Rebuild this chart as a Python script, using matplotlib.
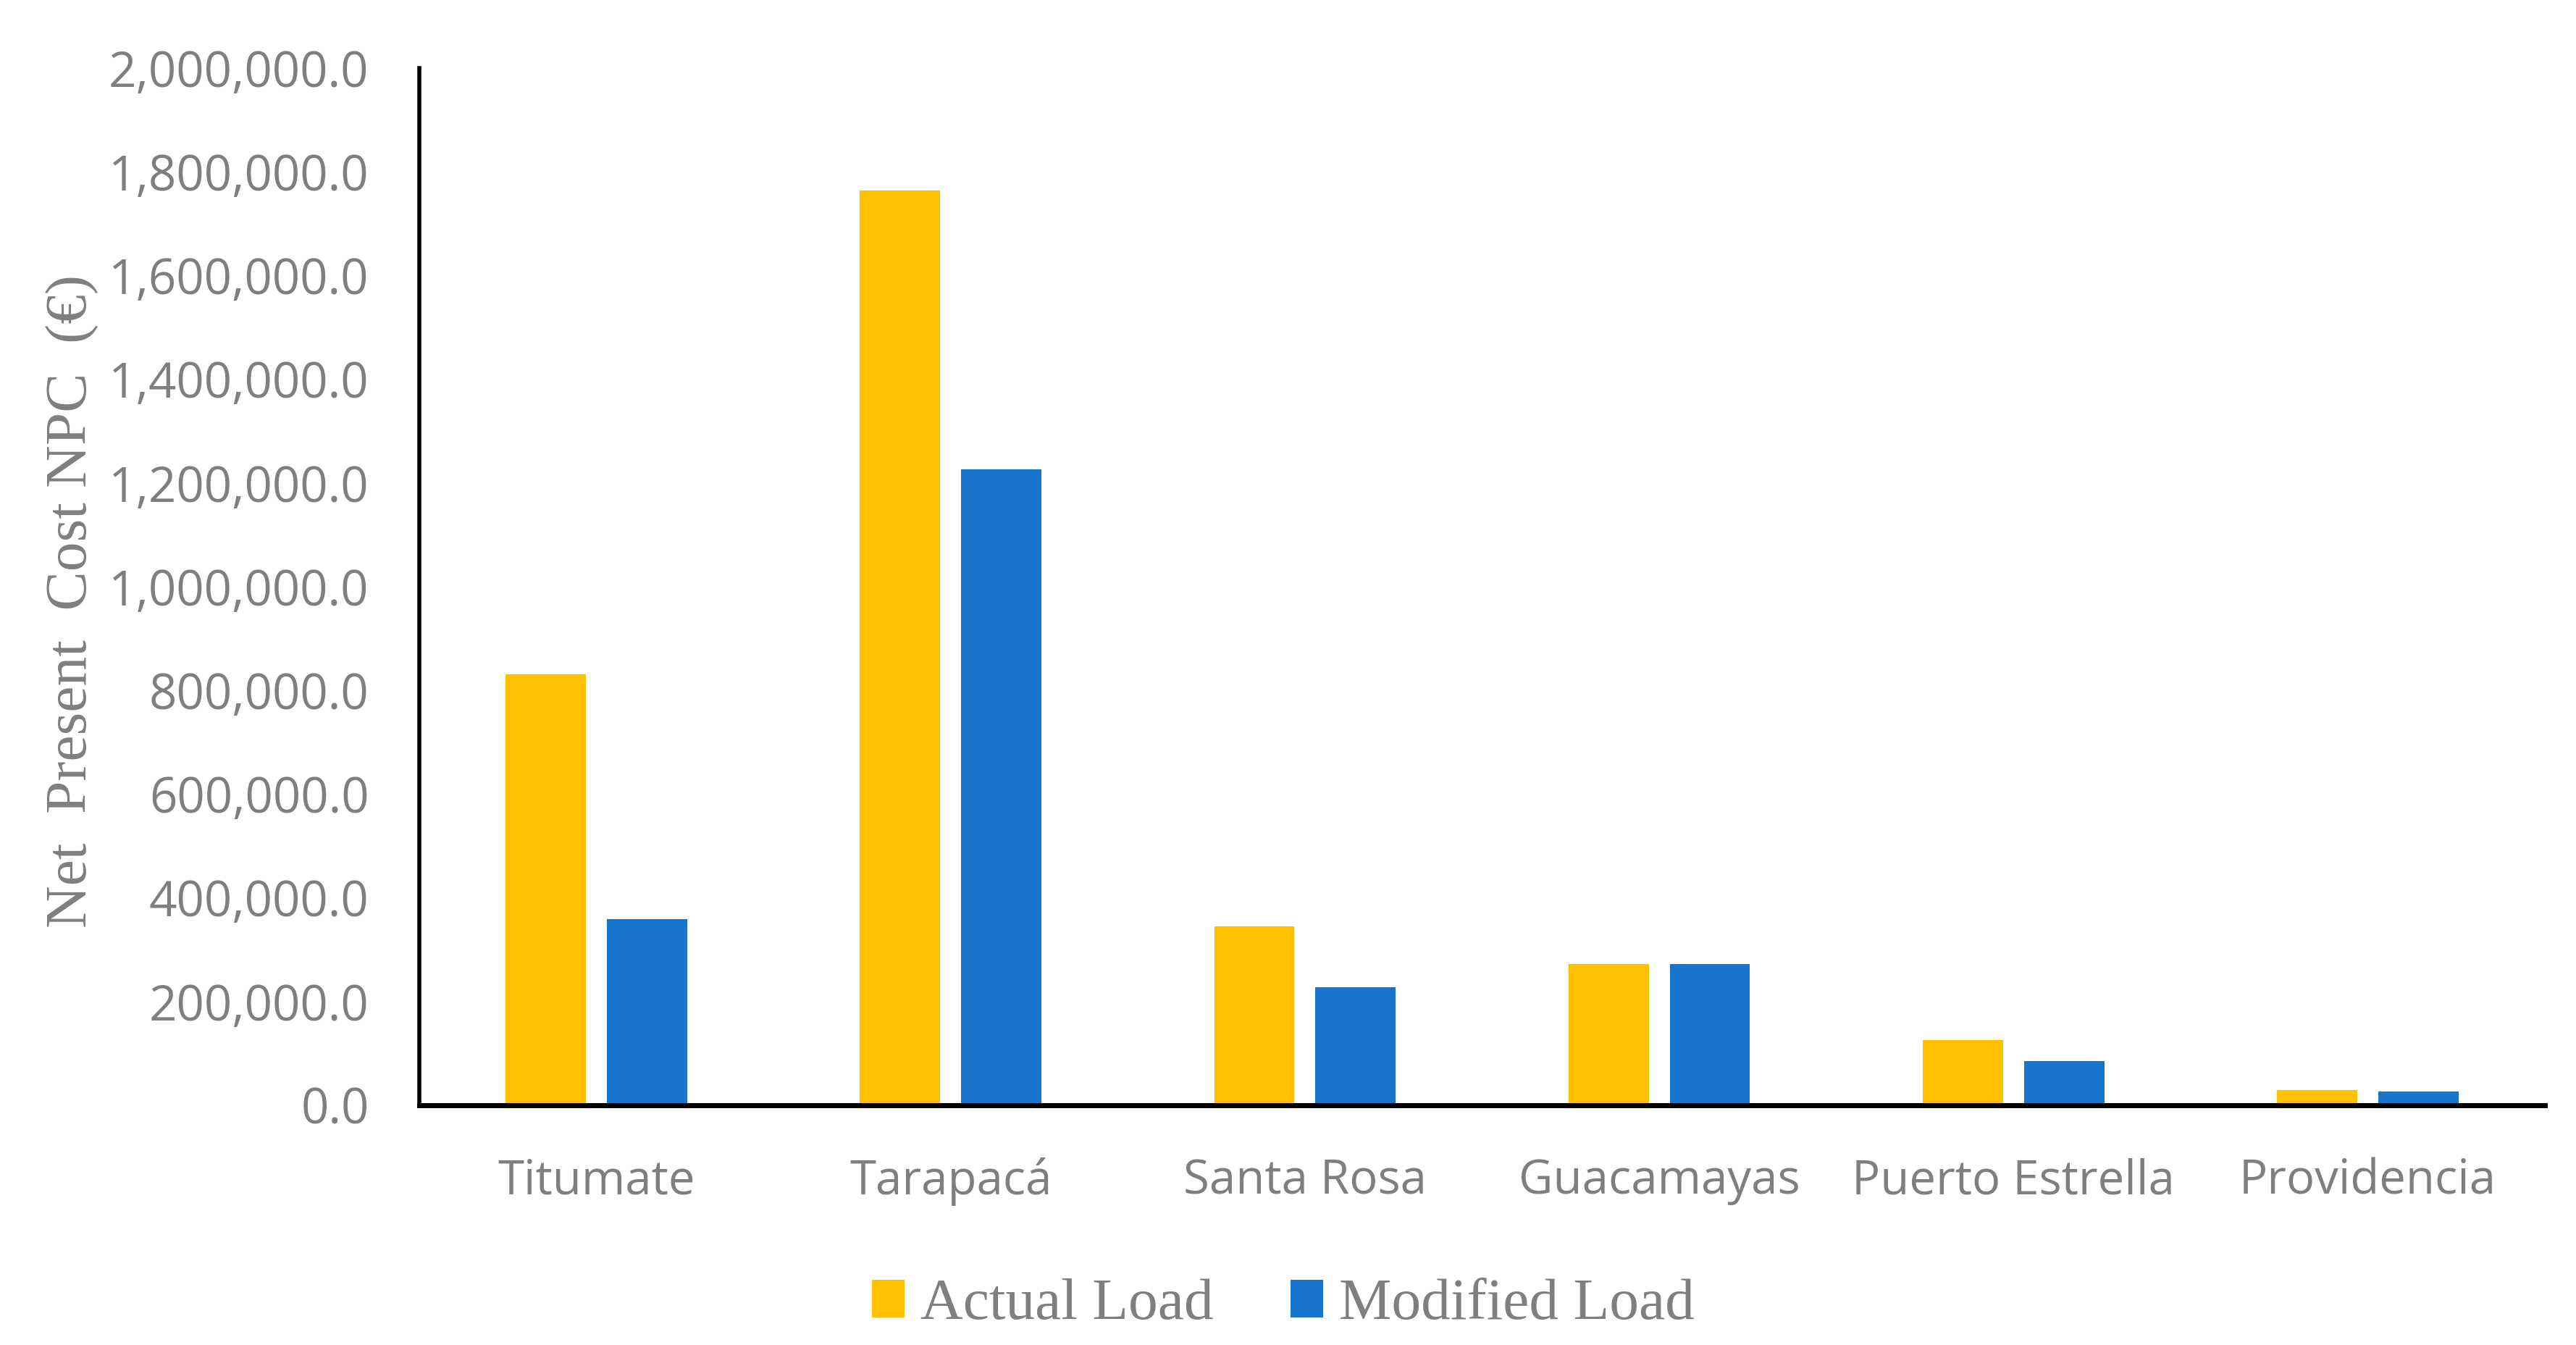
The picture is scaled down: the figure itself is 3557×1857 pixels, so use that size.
import matplotlib
matplotlib.use("Agg")
import matplotlib.pyplot as plt
import numpy as np
from matplotlib.ticker import FuncFormatter
from matplotlib.patches import Patch

categories = ["Titumate", "Tarapacá", "Santa Rosa", "Guacamayas", "Puerto Estrella", "Providencia"]
actual_load = [831000, 1764000, 345000, 272000, 126000, 29000]
modified_load = [359000, 1226000, 228000, 272000, 85000, 26500]
series_names = ["Actual Load", "Modified Load"]
yticks = list(range(0, 2000001, 200000))
ylabel_text = "Net  Present  Cost NPC  (€)"

YELLOW = "#FFC000"
BLUE = "#1874CD"
GRAY = "#7F7F7F"

W, H, DPI = 3557, 1857, 200
fig = plt.figure(figsize=(W / DPI, H / DPI), dpi=DPI)
ax = fig.add_axes([579 / W, 1 - 1526 / H, (3514 - 579) / W, (1526 - 94) / H])

x = np.arange(len(categories))
bw = 0.2265
off = 0.143
ax.bar(x - off, actual_load, width=bw, color=YELLOW, label=series_names[0])
ax.bar(x + off, modified_load, width=bw, color=BLUE, label=series_names[1])

ax.set_xlim(-0.5, len(categories) - 0.5)
ax.set_ylim(0, 2000000)
ax.set_yticks(yticks)
ax.yaxis.set_major_formatter(FuncFormatter(lambda v, p: f"{v:,.1f}"))
ax.set_xticks(x)
ax.set_xticklabels(categories)

for s in ["top", "right"]:
    ax.spines[s].set_visible(False)
ax.spines["left"].set_linewidth(2.0)
ax.spines["bottom"].set_linewidth(2.5)
ax.spines["left"].set_color("black")
ax.spines["bottom"].set_color("black")

ax.tick_params(axis="both", length=0)
ax.tick_params(axis="y", pad=25, labelsize=24.2, labelcolor=GRAY)
ax.tick_params(axis="x", pad=26, labelsize=23.5, labelcolor=GRAY)
for lab in ax.get_xticklabels() + ax.get_yticklabels():
    lab.set_fontfamily("Open Sans")

fig.text(100 / W, 1 - 830 / H, ylabel_text, rotation=90, ha="center", va="center",
         fontfamily="Liberation Serif", fontsize=29.3, color=GRAY)

handles = [Patch(facecolor=YELLOW), Patch(facecolor=BLUE)]
leg = fig.legend(handles, series_names, loc="center", bbox_to_anchor=(1772 / W, 1 - 1802 / H),
                 ncol=2, frameon=False, prop={"family": "Liberation Serif", "size": 29.3},
                 handlelength=0.55, handleheight=0.6, handletextpad=0.28, columnspacing=1.3)
for t in leg.get_texts():
    t.set_color(GRAY)

fig.savefig("out.png", dpi=DPI, facecolor="white")
